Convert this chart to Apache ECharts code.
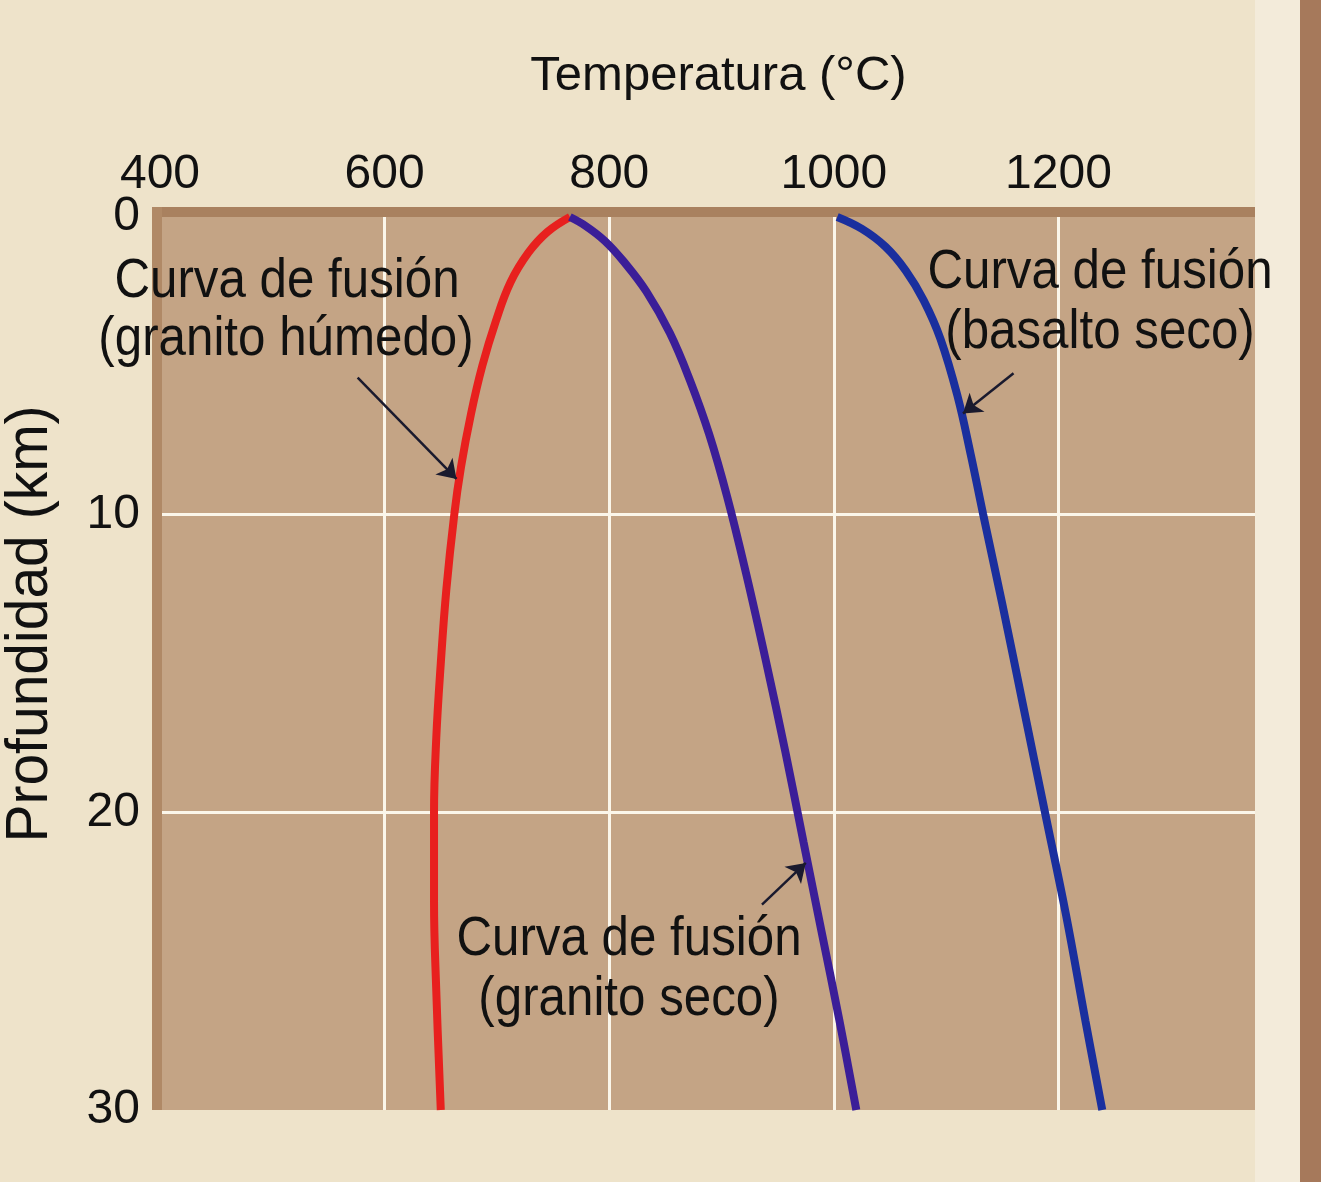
<!DOCTYPE html>
<html>
<head>
<meta charset="utf-8">
<title>Curvas de fusión</title>
<script src="https://cdn.jsdelivr.net/npm/echarts@6.0.0/dist/echarts.min.js"></script>
<style>
  html, body { margin: 0; padding: 0; background: #eee3ca; }
  #chart { width: 1321px; height: 1182px; }
</style>
</head>
<body>
<div id="chart"></div>
<script>
// granito húmedo (rojo)
const depthWet = [0, 0.5, 1.2, 2.2, 3.5, 5, 6.6, 8.4, 10, 12.5, 15, 17.5, 20, 23, 26, 30];
const tempWet = [765, 745, 728, 712, 699, 687, 677, 668, 662, 655, 650, 646, 644, 644, 646, 650];
// granito seco (violeta)
const depthDry = [0, 0.3, 0.8, 1.5, 2.5, 3.9, 5.5, 7.3, 9.4, 12, 15, 18, 21, 24, 27, 30];
const tempDry = [765, 779, 796, 813, 833, 854, 872, 889, 905, 922, 940, 957, 973, 989, 1005, 1020];
// basalto seco (azul)
const depthBas = [0, 0.4, 1.0, 1.8, 2.8, 4.1, 6, 8, 10, 13, 16.5, 20, 23.5, 27, 30];
const tempBas = [1003, 1025, 1046, 1064, 1080, 1095, 1110, 1122, 1133, 1150, 1169, 1188, 1207, 1224, 1239];

const tempTicks = [400, 600, 800, 1000, 1200];
const depthTicks = [0, 10, 20, 30];

// flechas: [temp, prof] inicio -> fin
const arrowWet = [[576, 5.4], [664, 8.8]];
const arrowDry = [[936, 23.1], [975, 21.7]];
const arrowBas = [[1160, 5.25], [1115, 6.6]];

const FONT = '"Liberation Sans", Arial, sans-serif';

function pairs(xs, ys) {
  return xs.map((x, i) => [x, ys[i]]);
}

function arrow(a) {
  return {
    silent: true,
    symbol: ['none', 'arrow'],
    symbolSize: 18,
    label: { show: false },
    lineStyle: { color: '#1a1a2e', width: 2.5, type: 'solid' },
    data: [[{ coord: a[0] }, { coord: a[1] }]]
  };
}

// texto algo estrecho, como en el original
function label(text, x, y, size, rot, sx) {
  return {
    type: 'text', x: x, y: y, z: 10,
    scaleX: sx || 0.88, rotation: rot || 0,
    style: { text: text, fill: '#111', font: size + 'px ' + FONT, align: 'center', verticalAlign: 'middle' }
  };
}

const myChart = echarts.init(document.getElementById('chart'));

const options = {
  backgroundColor: '#eee3ca',
  animation: false,
  grid: {
    left: 160, top: 217, width: 1095, height: 893,
    outerBoundsMode: 'none',
    show: true, backgroundColor: '#c4a485', borderWidth: 0
  },
  xAxis: {
    type: 'value', position: 'top',
    min: 400, max: 1375, interval: 200,
    name: 'Temperatura (°C)', nameLocation: 'middle', nameGap: 116,
    nameTextStyle: { fontSize: 49, fontFamily: FONT, color: '#111', padding: [0, 0, 0, 22] },
    axisLine: { show: false }, axisTick: { show: false },
    axisLabel: {
      fontSize: 48, fontFamily: FONT, color: '#111', margin: 18,
      showMaxLabel: false,
      formatter: v => tempTicks.includes(v) ? String(v) : ''
    },
    splitLine: { show: true, showMinLine: false, showMaxLine: false, lineStyle: { color: '#fbf6ea', width: 3 } }
  },
  yAxis: {
    type: 'value', inverse: true,
    min: 0, max: 30, interval: 10,
    axisLine: { show: false }, axisTick: { show: false },
    axisLabel: {
      fontSize: 48, fontFamily: FONT, color: '#111', margin: 20,
      formatter: v => depthTicks.includes(v) ? String(v) : ''
    },
    splitLine: { show: true, showMinLine: false, showMaxLine: false, lineStyle: { color: '#fbf6ea', width: 3 } }
  },
  series: [
    {
      name: 'granito húmedo', type: 'line', smooth: 0.4, showSymbol: false,
      data: pairs(tempWet, depthWet),
      lineStyle: { color: '#e8201e', width: 8 },
      markLine: arrow(arrowWet)
    },
    {
      name: 'granito seco', type: 'line', smooth: 0.4, showSymbol: false,
      data: pairs(tempDry, depthDry),
      lineStyle: { color: '#3b1e98', width: 8 },
      markLine: arrow(arrowDry)
    },
    {
      name: 'basalto seco', type: 'line', smooth: 0.4, showSymbol: false,
      data: pairs(tempBas, depthBas),
      lineStyle: { color: '#1a2f9e', width: 8 },
      markLine: arrow(arrowBas)
    }
  ],
  graphic: [
    // bordes oscuros del recuadro
    { type: 'rect', z: 1, shape: { x: 152, y: 207, width: 1103, height: 10 }, style: { fill: '#a9815f' } },
    { type: 'rect', z: 1, shape: { x: 152, y: 207, width: 10, height: 903 }, style: { fill: '#b08966' } },
    // franja clara y barra marrón a la derecha
    { type: 'rect', z: -1, shape: { x: 1255, y: 0, width: 45, height: 1182 }, style: { fill: '#f3ebda' } },
    { type: 'rect', z: -1, shape: { x: 1300, y: 0, width: 21, height: 1182 }, style: { fill: '#a6795b' } },
    label('Profundidad (km)', 30, 624, 60, Math.PI / 2, 0.95),
    label('Curva de fusión', 287, 282, 56),
    label('(granito húmedo)', 286, 340, 56),
    label('Curva de fusión', 1100, 273, 56),
    label('(basalto seco)', 1100, 333, 56),
    label('Curva de fusión', 629, 940, 56),
    label('(granito seco)', 629, 1000, 56)
  ]
};

myChart.setOption(options);
window.addEventListener('resize', () => myChart.resize());
</script>
</body>
</html>
